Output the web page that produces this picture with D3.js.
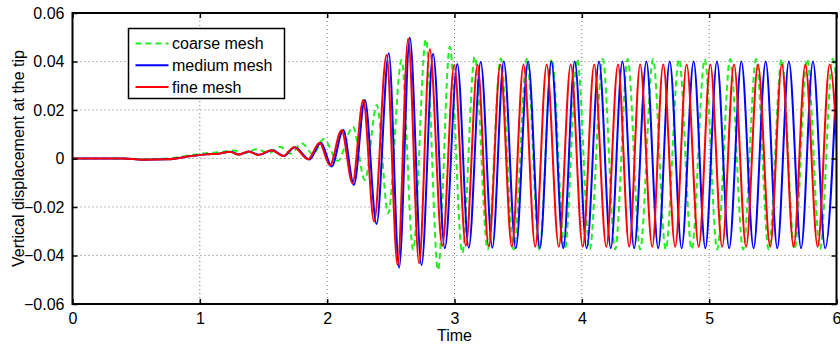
<!DOCTYPE html>
<html>
<head>
<meta charset="utf-8">
<script src="https://cdn.jsdelivr.net/npm/d3@7"></script>
<style>
  body { margin: 0; background: #fff; }
  svg text { font-family: 'Liberation Sans', Arial, Helvetica, sans-serif; }
</style>
</head>
<body>
<div id="chart"></div>
<script>
// axis ticks
const xTicks = [0, 1, 2, 3, 4, 5, 6];
const yTicks = [-0.06, -0.04, -0.02, 0, 0.02, 0.04, 0.06];

// series names (legend order)
const seriesNames = ['coarse mesh', 'medium mesh', 'fine mesh'];

// tip displacement at the turning points of each curve
const coarseT = [0, 0.40, 0.55, 0.75, 0.93, 1.05, 1.15, 1.260, 1.354, 1.448, 1.542, 1.629, 1.715, 1.801, 1.888, 1.974,
  2.084, 2.202, 2.296, 2.390, 2.479, 2.584, 2.675, 2.775, 2.871, 2.963, 3.061, 3.159, 3.261, 3.363, 3.465, 3.568,
  3.666, 3.764, 3.866, 3.964, 4.062, 4.164, 4.262, 4.360, 4.458, 4.559, 4.659, 4.763, 4.863, 4.965, 5.063, 5.165,
  5.267, 5.369, 5.467, 5.569, 5.671, 5.769, 5.871, 5.969, 6.071];
const coarseV = [0, 0, -0.0003, 0.0000, 0.0014, 0.0022, 0.0026, 0.0033, 0.0022, 0.0039, 0.0022, 0.0048, 0.0020, 0.0063, 0.0018, 0.0080,
  -0.0010, 0.0131, -0.0089, 0.0221, -0.0226, 0.0406, -0.0377, 0.0492, -0.0460, 0.0461, -0.0390, 0.0420, -0.0375, 0.0412, -0.0375, 0.0410,
  -0.0375, 0.0410, -0.0375, 0.0410, -0.0375, 0.0410, -0.0375, 0.0410, -0.0375, 0.0410, -0.0375, 0.0410, -0.0375, 0.0410, -0.0375, 0.0410,
  -0.0375, 0.0410, -0.0375, 0.0410, -0.0375, 0.0410, -0.0375, 0.0410, -0.0375];

const mediumT = [0, 0.40, 0.55, 0.75, 0.93, 1.048, 1.15, 1.244, 1.307, 1.385, 1.464, 1.570, 1.660, 1.746, 1.860, 1.951,
  2.035, 2.126, 2.210, 2.296, 2.388, 2.484, 2.565, 2.649, 2.741, 2.832, 2.924, 3.022, 3.112, 3.206, 3.297, 3.387,
  3.481, 3.578, 3.670, 3.761, 3.854, 3.944, 4.038, 4.135, 4.227, 4.319, 4.411, 4.507, 4.600, 4.690, 4.784, 4.878,
  4.970, 5.061, 5.157, 5.253, 5.349, 5.444, 5.535, 5.626, 5.722, 5.815, 5.911, 6.005];
const mediumV = [0, 0, -0.0005, -0.0003, 0.0010, 0.0017, 0.0020, 0.0028, 0.0016, 0.0029, 0.0015, 0.0034, 0.0010, 0.0046, -0.0004, 0.0065,
  -0.0033, 0.0118, -0.0109, 0.0241, -0.0270, 0.0434, -0.0450, 0.0498, -0.0440, 0.0432, -0.0370, 0.0390, -0.0368, 0.0398, -0.0368, 0.0400,
  -0.0370, 0.0400, -0.0370, 0.0400, -0.0370, 0.0400, -0.0370, 0.0400, -0.0370, 0.0400, -0.0370, 0.0400, -0.0370, 0.0400, -0.0370, 0.0400,
  -0.0370, 0.0400, -0.0370, 0.0400, -0.0370, 0.0400, -0.0370, 0.0400, -0.0370, 0.0400, -0.0370, 0.0400];

const fineT = [0, 0.40, 0.55, 0.75, 0.93, 1.048, 1.15, 1.236, 1.301, 1.380, 1.458, 1.564, 1.655, 1.739, 1.851, 1.940,
  2.021, 2.113, 2.199, 2.283, 2.369, 2.466, 2.553, 2.636, 2.722, 2.806, 2.904, 2.998, 3.089, 3.181, 3.269, 3.360,
  3.450, 3.542, 3.634, 3.724, 3.819, 3.913, 4.007, 4.097, 4.192, 4.284, 4.372, 4.458, 4.553, 4.639, 4.733, 4.823,
  4.918, 5.009, 5.102, 5.195, 5.290, 5.383, 5.479, 5.571, 5.663, 5.755, 5.852, 5.946, 6.040];
const fineV = [0, 0, -0.0005, -0.0003, 0.0010, 0.0017, 0.0020, 0.0028, 0.0016, 0.0029, 0.0015, 0.0034, 0.0010, 0.0046, -0.0003, 0.0065,
  -0.0028, 0.0117, -0.0102, 0.0241, -0.0260, 0.0427, -0.0440, 0.0494, -0.0432, 0.0450, -0.0360, 0.0386, -0.0360, 0.0387, -0.0362, 0.0388,
  -0.0363, 0.0388, -0.0364, 0.0388, -0.0364, 0.0388, -0.0364, 0.0388, -0.0364, 0.0388, -0.0364, 0.0388, -0.0364, 0.0388, -0.0364, 0.0388,
  -0.0364, 0.0388, -0.0364, 0.0388, -0.0364, 0.0388, -0.0364, 0.0388, -0.0364, 0.0388, -0.0364, 0.0388, -0.0364];

const width = 840, height = 346;
const margin = { top: 13, right: 3.5, bottom: 42, left: 72.5 };
const plotW = width - margin.left - margin.right;
const plotH = height - margin.top - margin.bottom;

const svg = d3.select('#chart').append('svg')
  .attr('width', width)
  .attr('height', height);

const x = d3.scaleLinear().domain([0, 6]).range([0, plotW]);
const y = d3.scaleLinear().domain([-0.06, 0.06]).range([plotH, 0]);

const chart = svg.append('g')
  .attr('transform', `translate(${margin.left},${margin.top})`);

svg.append('defs').append('clipPath').attr('id', 'plot-clip')
  .append('rect').attr('width', plotW).attr('height', plotH);

// dotted grid
const grid = chart.append('g').attr('class', 'grid')
  .attr('stroke', '#777').attr('stroke-width', 1).attr('stroke-dasharray', '1,3');
grid.selectAll('.gx').data(xTicks.slice(1, -1)).join('line')
  .attr('x1', d => x(d)).attr('x2', d => x(d)).attr('y1', 0).attr('y2', plotH);
grid.selectAll('.gy').data(yTicks.slice(1, -1)).join('line')
  .attr('x1', 0).attr('x2', plotW).attr('y1', d => y(d)).attr('y2', d => y(d));

// series
const series = [
  { name: seriesNames[0], t: coarseT, v: coarseV, color: '#22ee22', dash: '6,4' },
  { name: seriesNames[1], t: mediumT, v: mediumV, color: '#0000ff', dash: null },
  { name: seriesNames[2], t: fineT, v: fineV, color: '#ff0000', dash: null },
];

const line = d3.line()
  .x(d => x(d[0]))
  .y(d => y(d[1]))
  .curve(d3.curveMonotoneX);

chart.append('g').attr('clip-path', 'url(#plot-clip)')
  .selectAll('path').data(series).join('path')
  .attr('d', s => line(s.t.map((t, i) => [t, s.v[i]])))
  .attr('fill', 'none')
  .attr('stroke', s => s.color)
  .attr('stroke-width', 2)
  .attr('stroke-dasharray', s => s.dash);

// axes, MATLAB style: ticks inside on all four sides
const fmtY = d => d === 0 ? '0' : d3.format('.2f')(d).replace('-', '\u2212');
const tickLen = 5;

chart.append('g')
  .attr('transform', `translate(0,${plotH})`)
  .call(d3.axisBottom(x).tickValues(xTicks).tickSizeInner(-tickLen).tickSizeOuter(0).tickPadding(9).tickFormat(d3.format('d')))
  .call(g => g.select('.domain').remove());
chart.append('g')
  .call(d3.axisTop(x).tickValues(xTicks).tickSizeInner(-tickLen).tickSizeOuter(0).tickFormat(''))
  .call(g => g.select('.domain').remove());
chart.append('g')
  .call(d3.axisLeft(y).tickValues(yTicks).tickSizeInner(-tickLen).tickSizeOuter(0).tickPadding(8).tickFormat(fmtY))
  .call(g => g.select('.domain').remove());
chart.append('g')
  .attr('transform', `translate(${plotW},0)`)
  .call(d3.axisRight(y).tickValues(yTicks).tickSizeInner(-tickLen).tickSizeOuter(0).tickFormat(''))
  .call(g => g.select('.domain').remove());

chart.selectAll('.tick line').attr('stroke', '#000').attr('stroke-width', 1.5);
chart.selectAll('.tick text')
  .attr('fill', '#000')
  .style('font-size', '16px');

// box
chart.append('rect')
  .attr('width', plotW).attr('height', plotH)
  .attr('fill', 'none').attr('stroke', '#000').attr('stroke-width', 2);

// axis titles
svg.append('text')
  .attr('x', margin.left + plotW / 2).attr('y', 341)
  .attr('text-anchor', 'middle')
  .style('font-size', '16px')
  .text('Time');
svg.append('text')
  .attr('transform', `translate(18,${margin.top + plotH / 2}) rotate(-90)`)
  .attr('text-anchor', 'middle')
  .attr('dy', '0.35em')
  .style('font-size', '16px')
  .text('Vertical displacement at the tip');

// legend
const legend = svg.append('g').attr('transform', 'translate(128.5,28.5)');
legend.append('rect')
  .attr('width', 156).attr('height', 70)
  .attr('fill', '#fff').attr('stroke', '#000').attr('stroke-width', 1.5);
const item = legend.selectAll('.item').data(series).join('g')
  .attr('transform', (d, i) => `translate(0,${15 + i * 21.7})`);
item.append('line')
  .attr('x1', 7).attr('x2', 40)
  .attr('stroke', d => d.color).attr('stroke-width', 2)
  .attr('stroke-dasharray', d => d.dash);
item.append('text')
  .attr('x', 43.5).attr('dy', '0.35em')
  .style('font-size', '16px')
  .text(d => d.name);
</script>
</body>
</html>
